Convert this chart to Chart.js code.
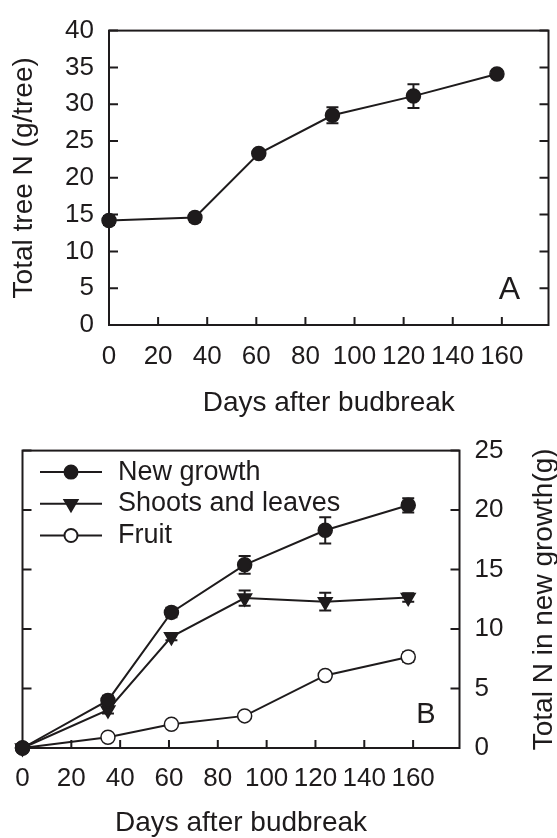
<!DOCTYPE html>
<html>
<head>
<meta charset="utf-8">
<script src="https://cdn.jsdelivr.net/npm/chart.js@4.4.0/dist/chart.umd.min.js"></script>
<style>
  body { margin: 0; background: #fff; }
  canvas { position: absolute; left: 0; }
  #chartA { top: 0; }
  #chartB { top: 420px; }
</style>
</head>
<body>
<canvas id="chartA" width="557" height="420"></canvas>
<canvas id="chartB" width="557" height="418"></canvas>
<script>
// sampling days (same for both panels)
const days = [0, 35, 61, 91, 124, 158];

// panel A - total tree N
const totalTreeN = [14.2, 14.6, 23.3, 28.5, 31.1, 34.1];
const totalTreeErr = [0.6, 0.6, 0.4, 1.1, 1.6, 0.4];

// panel B - N in new growth
const seriesNames = ['New growth', 'Shoots and leaves', 'Fruit'];
const newGrowth = [0, 4.0, 11.4, 15.4, 18.3, 20.4];
const newGrowthErr = [0, 0.4, 0.4, 0.75, 1.1, 0.6];
const shootsLeaves = [0, 3.2, 9.35, 12.6, 12.3, 12.65];
const shootsLeavesErr = [0, 0.3, 0.3, 0.65, 0.75, 0.35];
const fruit = [0, 0.9, 2.0, 2.7, 6.1, 7.65];
const fruitErr = [0, 0.2, 0.2, 0.2, 0.3, 0.4];

// tick labels
const xTicks = [0, 20, 40, 60, 80, 100, 120, 140, 160];
const yTicksA = [0, 5, 10, 15, 20, 25, 30, 35, 40];
const yTicksB = [0, 5, 10, 15, 20, 25];

const ink = '#1e1b1c';
const FONT = '"Liberation Sans", Arial, sans-serif';

const pts = vals => days.map((d, i) => ({ x: d, y: vals[i] }));
const setTicks = list => s => { s.ticks = list.map(v => ({ value: v })); };

// box round the plot + inward tick marks + panel letter
function makeFrame(yId, letter, dx, dy, letterSize) {
  return {
    id: 'frame',
    beforeDatasetsDraw(chart) {
      const { ctx, chartArea: a, scales } = chart;
      const ys = scales[yId];
      ctx.save();
      ctx.strokeStyle = ink;
      ctx.lineWidth = 2;
      ctx.strokeRect(a.left, a.top, a.width, a.height);
      ctx.beginPath();
      scales.x.ticks.forEach(t => {
        const px = scales.x.getPixelForValue(t.value);
        ctx.moveTo(px, a.bottom);
        ctx.lineTo(px, a.bottom - 8);
      });
      ys.ticks.forEach(t => {
        const py = ys.getPixelForValue(t.value);
        ctx.moveTo(a.left, py); ctx.lineTo(a.left + 9, py);
        ctx.moveTo(a.right, py); ctx.lineTo(a.right - 9, py);
      });
      ctx.stroke();
      ctx.fillStyle = ink;
      ctx.font = letterSize + 'px ' + FONT;
      ctx.textAlign = 'center';
      ctx.textBaseline = 'middle';
      ctx.fillText(letter, a.right - dx, a.bottom - dy);
      ctx.restore();
    }
  };
}

// error bars from dataset.errors
const errorBars = {
  id: 'errorBars',
  beforeDatasetsDraw(chart) {
    const { ctx } = chart;
    ctx.save();
    ctx.strokeStyle = ink;
    ctx.lineWidth = 2;
    chart.data.datasets.forEach((ds, di) => {
      const meta = chart.getDatasetMeta(di);
      const ys = chart.scales[meta.yAxisID];
      meta.data.forEach((el, i) => {
        const e = ds.errors[i];
        if (!e) return;
        const v = ds.data[i].y;
        const y0 = ys.getPixelForValue(v - e);
        const y1 = ys.getPixelForValue(v + e);
        ctx.beginPath();
        ctx.moveTo(el.x, y0); ctx.lineTo(el.x, y1);
        ctx.moveTo(el.x - 6, y0); ctx.lineTo(el.x + 6, y0);
        ctx.moveTo(el.x - 6, y1); ctx.lineTo(el.x + 6, y1);
        ctx.stroke();
      });
    });
    ctx.restore();
  }
};

function drawMarker(ctx, style, x, y, r) {
  ctx.beginPath();
  if (style === 'triangle') {
    ctx.moveTo(x - r * 0.87, y - r * 0.5);
    ctx.lineTo(x + r * 0.87, y - r * 0.5);
    ctx.lineTo(x, y + r);
    ctx.closePath();
  } else {
    ctx.arc(x, y, r, 0, Math.PI * 2);
  }
  ctx.fill();
  ctx.stroke();
}

// legend inside plot B (line with marker in the middle) + right axis title
const legendB = {
  id: 'legendB',
  afterDatasetsDraw(chart) {
    const { ctx, chartArea: a } = chart;
    ctx.save();
    ctx.strokeStyle = ink;
    ctx.lineWidth = 2;
    chart.data.datasets.forEach((ds, i) => {
      const y = a.top + 21.5 + i * 31.7;
      const x0 = a.left + 17.5;
      ctx.beginPath();
      ctx.moveTo(x0, y); ctx.lineTo(x0 + 62, y);
      ctx.stroke();
      ctx.fillStyle = ds.pointBackgroundColor;
      drawMarker(ctx, ds.pointStyle, x0 + 31, y, ds.pointStyle === 'triangle' ? 7.5 : 6.5);
      ctx.fillStyle = ink;
      ctx.font = '27px ' + FONT;
      ctx.textAlign = 'left';
      ctx.textBaseline = 'middle';
      ctx.fillText(ds.label, a.left + 95.5, y);
    });
    ctx.translate(544, (a.top + a.bottom) / 2);
    ctx.rotate(-Math.PI / 2);
    ctx.font = '28px ' + FONT;
    ctx.textAlign = 'center';
    ctx.fillText('Total N in new growth(g)', 0, 0);
    ctx.restore();
  }
};

Chart.defaults.color = ink;
Chart.defaults.font.family = FONT;

const xScale = (pad, titlePad, h) => ({
  type: 'linear',
  min: 0,
  max: 179,
  grid: { display: false, drawTicks: false },
  border: { display: false },
  afterBuildTicks: setTicks(xTicks),
  ticks: { font: { size: 26 }, padding: pad, maxRotation: 0, autoSkip: false },
  title: { display: true, text: 'Days after budbreak', font: { size: 28 }, padding: { top: 0, bottom: titlePad } },
  afterFit: s => { s.height = h; }
});

new Chart(document.getElementById('chartA'), {
  type: 'line',
  data: {
    datasets: [{
      label: 'Total tree N',
      data: pts(totalTreeN),
      errors: totalTreeErr,
      borderColor: ink,
      borderWidth: 2,
      pointStyle: 'circle',
      pointRadius: 7,
      pointBorderWidth: 1.5,
      pointBackgroundColor: ink,
      pointBorderColor: ink,
      clip: false
    }]
  },
  options: {
    responsive: false,
    animation: false,
    layout: { padding: { top: 23, right: 8, left: 0, bottom: 0 } },
    scales: {
      x: xScale(16, 0, 95),
      y: {
        min: 0,
        max: 40,
        grid: { display: false, drawTicks: false },
        border: { display: false },
        afterBuildTicks: setTicks(yTicksA),
        ticks: { font: { size: 26 }, padding: 15 },
        title: { display: true, text: 'Total tree N (g/tree)', font: { size: 28 }, padding: { top: 7, bottom: 0 } },
        afterFit: s => { s.width = 109; }
      }
    },
    plugins: { legend: { display: false }, tooltip: { enabled: false } }
  },
  plugins: [makeFrame('y', 'A', 39, 35, 32), errorBars]
});

const seriesB = [
  { vals: newGrowth, err: newGrowthErr, style: 'circle', fill: ink, rot: 0, r: 7 },
  { vals: shootsLeaves, err: shootsLeavesErr, style: 'triangle', fill: ink, rot: 180, r: 8 },
  { vals: fruit, err: fruitErr, style: 'circle', fill: '#ffffff', rot: 0, r: 7 }
];

new Chart(document.getElementById('chartB'), {
  type: 'line',
  data: {
    datasets: seriesB.map((s, i) => ({
      label: seriesNames[i],
      data: pts(s.vals),
      errors: s.err,
      borderColor: ink,
      borderWidth: 2,
      pointStyle: s.style,
      pointRotation: s.rot,
      pointRadius: s.r,
      pointBorderWidth: 1.5,
      pointBackgroundColor: s.fill,
      pointBorderColor: ink,
      clip: false
    }))
  },
  options: {
    responsive: false,
    animation: false,
    layout: { padding: { top: 30, right: 0, left: 22.5, bottom: 0 } },
    scales: {
      x: xScale(15, -2, 90),
      y: {
        position: 'right',
        min: 0,
        max: 25,
        grid: { display: false, drawTicks: false },
        border: { display: false },
        afterBuildTicks: setTicks(yTicksB),
        ticks: { font: { size: 26 }, padding: 15 },
        afterFit: s => { s.width = 97.5; }
      }
    },
    plugins: { legend: { display: false }, tooltip: { enabled: false } }
  },
  plugins: [makeFrame('y', 'B', 33.5, 33, 29), errorBars, legendB]
});
</script>
</body>
</html>
